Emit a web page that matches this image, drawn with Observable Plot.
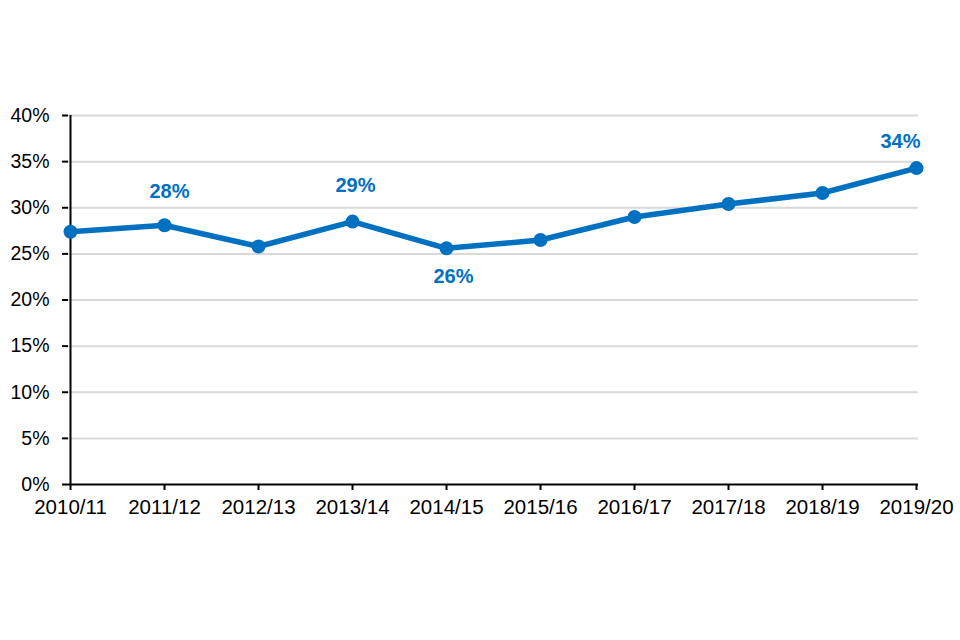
<!DOCTYPE html>
<html>
<head>
<meta charset="utf-8">
<script src="https://cdn.jsdelivr.net/npm/d3@7"></script>
<script src="https://cdn.jsdelivr.net/npm/@observablehq/plot@0.6"></script>
<style>
  html, body { margin: 0; padding: 0; background: #fff; overflow: hidden; }
  #chart { width: 960px; height: 640px; }
  #chart svg { display: block; }
</style>
</head>
<body>
<div id="chart"></div>
<script>
const years = ["2010/11","2011/12","2012/13","2013/14","2014/15","2015/16","2016/17","2017/18","2018/19","2019/20"];
const shares = [0.274, 0.281, 0.258, 0.285, 0.256, 0.265, 0.290, 0.304, 0.316, 0.343];
const yTicks = [0, 0.05, 0.10, 0.15, 0.20, 0.25, 0.30, 0.35, 0.40];
const labelYears = ["2011/12","2013/14","2014/15","2019/20"];
const labelTexts = ["28%","29%","26%","34%"];

const data = years.map((year, i) => ({year, value: shares[i]}));
const labelOffsets = [{dx: 5, dy: -34}, {dx: 3, dy: -36}, {dx: 7, dy: 28}, {dx: -16, dy: -26}];
const labels = labelYears.map((year, i) => ({
  year, value: shares[years.indexOf(year)], text: labelTexts[i], ...labelOffsets[i]
}));

const blue = "#0070C0";
const font = "'Liberation Sans', Arial, sans-serif";
const labelMarks = labels.map(d => Plot.text([d], {
  x: "year", y: "value", text: "text", dx: d.dx, dy: d.dy,
  fill: blue, fontWeight: "bold", fontSize: 20,
  fontFamily: font
}));

const chart = Plot.plot({
  width: 960,
  height: 640,
  marginLeft: 68,
  marginRight: 42,
  marginTop: 115,
  marginBottom: 156,
  style: {fontFamily: font, background: "#fff", color: "#000"},
  x: {type: "point", domain: years, padding: 0},
  y: {domain: [0, 0.4]},
  marks: [
    Plot.ruleY(yTicks.filter(t => t > 0), {stroke: "#d9d9d9", strokeWidth: 2}),
    Plot.axisY({ticks: yTicks, tickFormat: d3.format(".0%"), tickSize: 6, tickPadding: 13,
      fontSize: 19.5, stroke: "#000", strokeWidth: 2, strokeOpacity: 1, fill: "#000", label: null}),
    Plot.axisX({tickSize: 6, tickPadding: 9, fontSize: 20.5, stroke: "#000", strokeWidth: 2,
      strokeOpacity: 1, fill: "#000", label: null}),
    Plot.ruleX([years[0]], {stroke: "#000", strokeWidth: 2}),
    Plot.ruleY([0], {stroke: "#000", strokeWidth: 2}),
    Plot.line(data, {x: "year", y: "value", stroke: blue, strokeWidth: 5.5}),
    Plot.dot(data, {x: "year", y: "value", fill: blue, r: 7}),
    ...labelMarks
  ]
});
document.getElementById("chart").appendChild(chart);
</script>
</body>
</html>
